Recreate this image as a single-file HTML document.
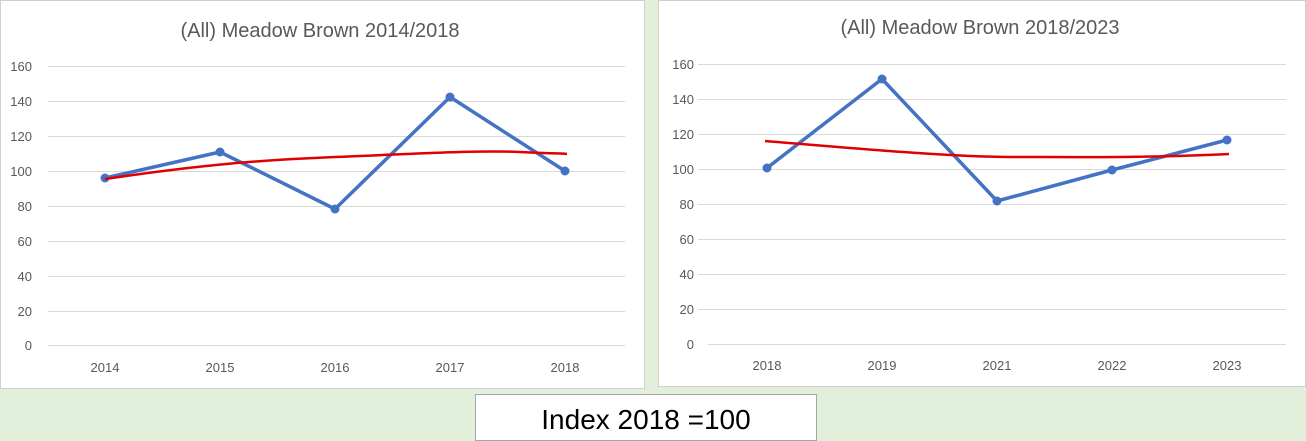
<!DOCTYPE html>
<html><head><meta charset="utf-8"><style>
html,body{margin:0;padding:0;background:#e2efda;}
svg{display:block;font-family:"Liberation Sans",sans-serif;}
</style></head><body>
<svg width="1306" height="441" viewBox="0 0 1306 441">
<rect x="0" y="0" width="1306" height="441" fill="#e2efda"/>
<rect x="0.5" y="0.5" width="644" height="388" fill="#fff" stroke="#d0d0d0"/>
<rect x="658.5" y="0.5" width="647" height="386" fill="#fff" stroke="#d0d0d0"/>
<rect x="475.5" y="394.5" width="341" height="46" fill="#fff" stroke="#a6a6a6"/>
<text x="646" y="429" font-size="28" text-anchor="middle" fill="#000">Index 2018 =100</text>

<!-- left chart -->
<text x="320" y="37" font-size="20" text-anchor="middle" fill="#595959">(All) Meadow Brown 2014/2018</text>
<g stroke="#d9d9d9" stroke-width="1">
<line x1="48" x2="625" y1="66.5" y2="66.5"/><line x1="48" x2="625" y1="101.5" y2="101.5"/>
<line x1="48" x2="625" y1="136.5" y2="136.5"/><line x1="48" x2="625" y1="171.5" y2="171.5"/>
<line x1="48" x2="625" y1="206.5" y2="206.5"/><line x1="48" x2="625" y1="241.5" y2="241.5"/>
<line x1="48" x2="625" y1="276.5" y2="276.5"/><line x1="48" x2="625" y1="311.5" y2="311.5"/>
<line x1="48" x2="625" y1="345.5" y2="345.5"/>
</g>
<g font-size="13" fill="#595959" text-anchor="end">
<text x="32" y="71">160</text><text x="32" y="106">140</text><text x="32" y="141">120</text>
<text x="32" y="176">100</text><text x="32" y="211">80</text><text x="32" y="246">60</text>
<text x="32" y="281">40</text><text x="32" y="316">20</text><text x="32" y="350">0</text>
</g>
<g font-size="13" fill="#595959" text-anchor="middle">
<text x="105" y="372">2014</text><text x="220" y="372">2015</text><text x="335" y="372">2016</text><text x="450" y="372">2017</text><text x="565" y="372">2018</text>
</g>
<polyline points="105,178 220,152 335,209 450,97 565,171" fill="none" stroke="#4472c4" stroke-width="3.5" stroke-linejoin="round"/>
<g fill="#4472c4"><circle cx="105" cy="178" r="4.5"/><circle cx="220" cy="152" r="4.5"/><circle cx="335" cy="209" r="4.5"/><circle cx="450" cy="97" r="4.5"/><circle cx="565" cy="171" r="4.5"/></g>
<path d="M105,179 C200,165 260,160 335,157 S480,150 520,152 S560,153 567,154" fill="none" stroke="#e00000" stroke-width="2.5"/>

<!-- right chart -->
<text x="980" y="34" font-size="20" text-anchor="middle" fill="#595959">(All) Meadow Brown 2018/2023</text>
<g stroke="#d9d9d9" stroke-width="1">
<line x1="698" x2="1286" y1="64.5" y2="64.5"/><line x1="698" x2="1286" y1="99.5" y2="99.5"/>
<line x1="698" x2="1286" y1="134.5" y2="134.5"/><line x1="698" x2="1286" y1="169.5" y2="169.5"/>
<line x1="698" x2="1286" y1="204.5" y2="204.5"/><line x1="698" x2="1286" y1="239.5" y2="239.5"/>
<line x1="698" x2="1286" y1="274.5" y2="274.5"/><line x1="698" x2="1286" y1="309.5" y2="309.5"/>
<line x1="708" x2="1286" y1="344.5" y2="344.5"/>
</g>
<g font-size="13" fill="#595959" text-anchor="end">
<text x="694" y="69">160</text><text x="694" y="104">140</text><text x="694" y="139">120</text>
<text x="694" y="174">100</text><text x="694" y="209">80</text><text x="694" y="244">60</text>
<text x="694" y="279">40</text><text x="694" y="314">20</text><text x="694" y="349">0</text>
</g>
<g font-size="13" fill="#595959" text-anchor="middle">
<text x="767" y="370">2018</text><text x="882" y="370">2019</text><text x="997" y="370">2021</text><text x="1112" y="370">2022</text><text x="1227" y="370">2023</text>
</g>
<polyline points="767,168 882,79 997,201 1112,170 1227,140" fill="none" stroke="#4472c4" stroke-width="3.5" stroke-linejoin="round"/>
<g fill="#4472c4"><circle cx="767" cy="168" r="4.5"/><circle cx="882" cy="79" r="4.5"/><circle cx="997" cy="201" r="4.5"/><circle cx="1112" cy="170" r="4.5"/><circle cx="1227" cy="140" r="4.5"/></g>
<path d="M765,141 C850,148 950,157 1010,157 S1150,158 1229,154" fill="none" stroke="#e00000" stroke-width="2.5"/>
</svg>
</body></html>
